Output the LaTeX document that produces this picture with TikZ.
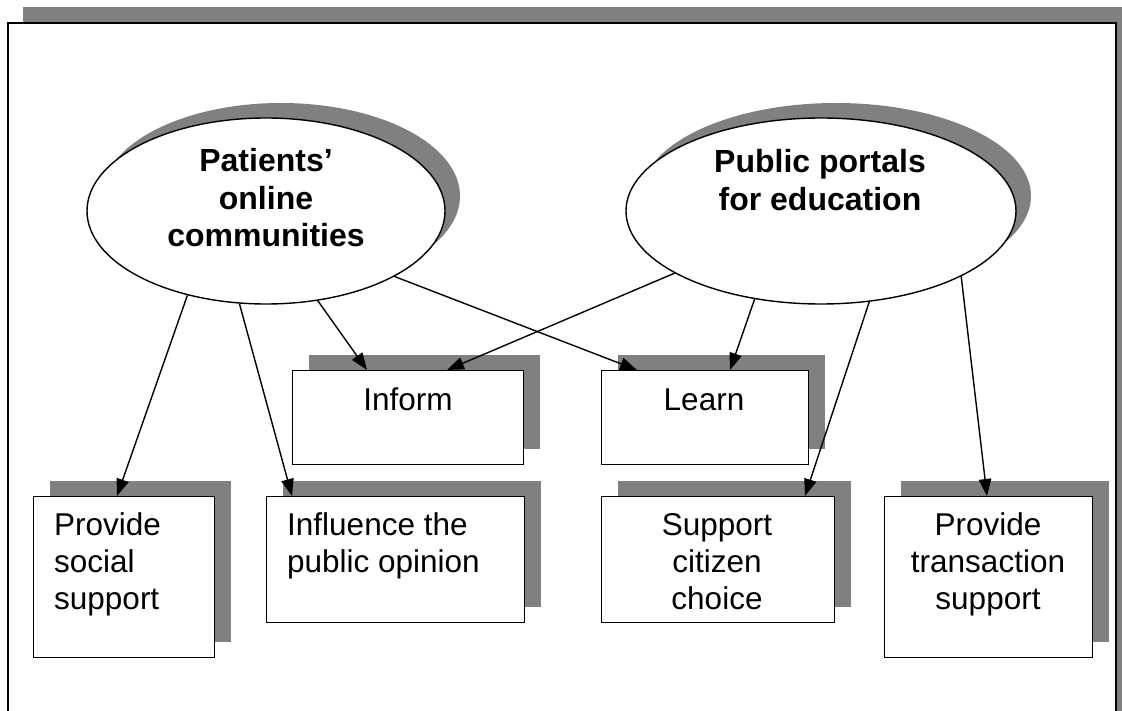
\documentclass[tikz,border=0pt]{standalone}
\usepackage{fontspec}
\setmainfont{Liberation Sans}
\usetikzlibrary{shapes.geometric,arrows.meta,shadows,calc}
\definecolor{shadowgray}{HTML}{808080}
\begin{document}
\begin{tikzpicture}[x=1pt,y=-1pt,
  ell/.style={ellipse, draw, line width=1.4pt, fill=white, minimum height=186pt, inner sep=0pt,
    general shadow={fill=shadowgray, shadow xshift=15pt, shadow yshift=15pt}},
  box/.style={rectangle, draw, line width=1.4pt, fill=white, inner sep=0pt, anchor=north west,
    general shadow={fill=shadowgray, shadow xshift=16pt, shadow yshift=16pt}},
  title/.style={font=\fontsize{32}{37.5}\selectfont\bfseries, align=center, anchor=base, inner sep=0pt},
  lbl/.style={font=\fontsize{31.5}{37}\selectfont, anchor=base, inner sep=0pt},
  arr/.style={line width=1.4pt, -{Triangle[length=17pt,width=12.5pt]}}]
\useasboundingbox (0,0) rectangle (1122,711);
\clip (0,0) rectangle (1122,711);
% outer frame
\fill[shadowgray] (23,7) rectangle (1140,730);
\draw[line width=1.7pt, fill=white] (8,23) rectangle (1116,740);
% ellipses
\node[ell, minimum width=358pt] (pat) at (266,211) {};
\node[ell, minimum width=390pt] (pub) at (821,211) {};
\node[title] (patt) at (266,247) {Patients’\\online\\communities};
\node[title] (pubt) at (820,210.5) {Public portals\\for education};
% boxes
\node[box, minimum width=181pt, minimum height=161pt] (soc) at (33,496) {};
\node[box, minimum width=258pt, minimum height=126pt] (inf) at (266,496) {};
\node[box, minimum width=231pt, minimum height=94pt] (inm) at (292,370) {};
\node[box, minimum width=207pt, minimum height=94pt] (lrn) at (601,370) {};
\node[box, minimum width=233pt, minimum height=126pt] (cit) at (601,496) {};
\node[box, minimum width=208pt, minimum height=161pt] (trn) at (884,496) {};
% labels
\node[lbl] (inmt) at (408,410) {Inform};
\node[lbl] (lrnt) at (704,410) {Learn};
\node[lbl, align=left, anchor=base west] (soct) at (54,609) {Provide\\social\\support};
\node[lbl, align=left, anchor=base west] (inft) at (287,572) {Influence the\\public opinion};
\node[lbl, align=center] (citt) at (717,609) {Support\\citizen\\choice};
\node[lbl, align=center] (trnt) at (988,609) {Provide\\transaction\\support};
% arrows
\draw[arr] (pat.227) -- ([xshift=84pt]soc.north west);
\draw[arr] (pat.254.2) -- ([xshift=26pt]inf.north west);
\draw[arr] (pat.300.3) -- ([xshift=75pt]inm.north west);
\draw[arr] (pat.333.8) -- ([xshift=36pt]lrn.north west);
\draw[arr] (pub.203.5) -- ([xshift=155pt]inm.north west);
\draw[arr] (pub.233) -- ([xshift=129pt]lrn.north west);
\draw[arr] (pub.298.6) -- ([xshift=204pt]cit.north west);
\draw[arr] (pub.335.8) -- ([xshift=103pt]trn.north west);
\end{tikzpicture}
\end{document}
